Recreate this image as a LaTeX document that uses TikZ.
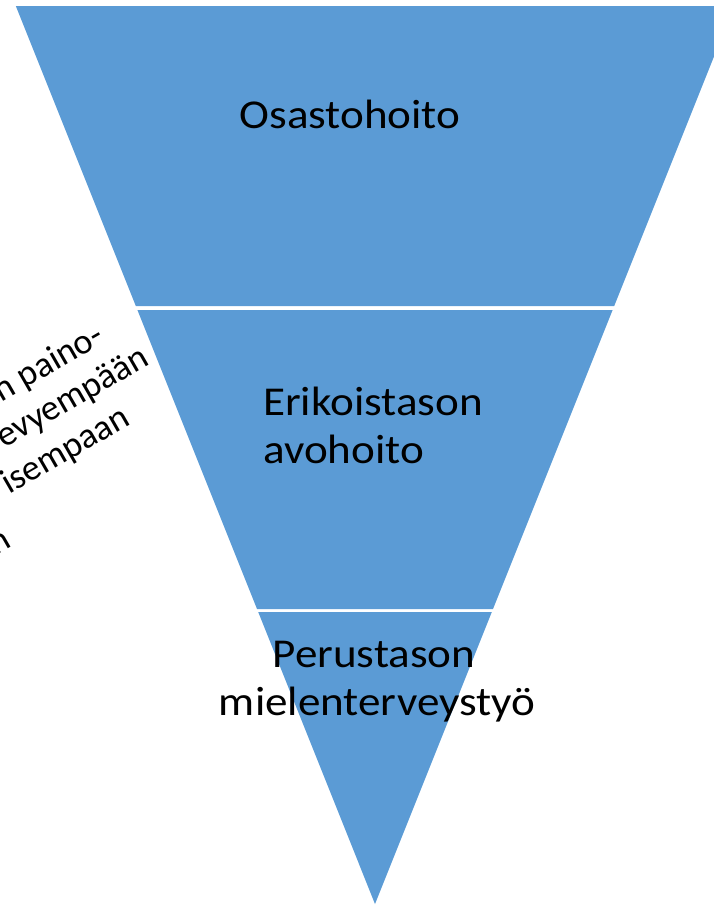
\documentclass[tikz,border=0pt]{standalone}
\usepackage{fontspec}
\setmainfont{Carlito}[FakeStretch=1.1]
\newfontfamily\sidefont{Carlito}
\usepackage{tikz}
\definecolor{bandblue}{HTML}{5B9BD5}

\begin{document}
\begin{tikzpicture}[
                    x = 1pt,
                    y = -1pt,
                    band/.style = {fill = bandblue, draw = none},
                    lbl/.style = {inner sep = 0pt, font = \fontsize{41}{48}\selectfont},
                    side/.style = {inner sep = 0pt, rotate = 30, anchor = base east,
                                   font = \sidefont\fontsize{36}{43}\selectfont}]
                \useasboundingbox (0,0) rectangle (714,905);
                \clip (0,0) rectangle (714,905);
                % three levels of the funnel
                \foreach \ya/\yb in {6/306, 310/609, 612/904}
                    \fill[band] ({375-0.4*(904-\ya)},\ya) -- ({375+0.4*(904-\ya)},\ya)
                                -- ({375+0.4*(904-\yb)},\yb) -- ({375-0.4*(904-\yb)},\yb) -- cycle;
                \node[lbl, anchor = base]      (osasto) at (350,128) {Osastohoito};
                \node[lbl, anchor = base west] (erik)   at (263,415) {Erikoistason};
                \node[lbl, anchor = base west] (avo)    at (263,463) {avohoito};
                \node[lbl, anchor = base]      (perus)  at (374,667) {Perustason};
                \node[lbl, anchor = base]      (miel)   at (377,715) {mielenterveystyö};
                % rotated text, cut by the left border
                \node[side] (s1) at (106,342) {n paino-};
                \node[side] (s2) at (151,364) {evyempään};
                \node[side] (s3) at (132,424) {isempaan};
                \node[side] (s4) at (13,546)  {n};
            \end{tikzpicture}
\end{document}
